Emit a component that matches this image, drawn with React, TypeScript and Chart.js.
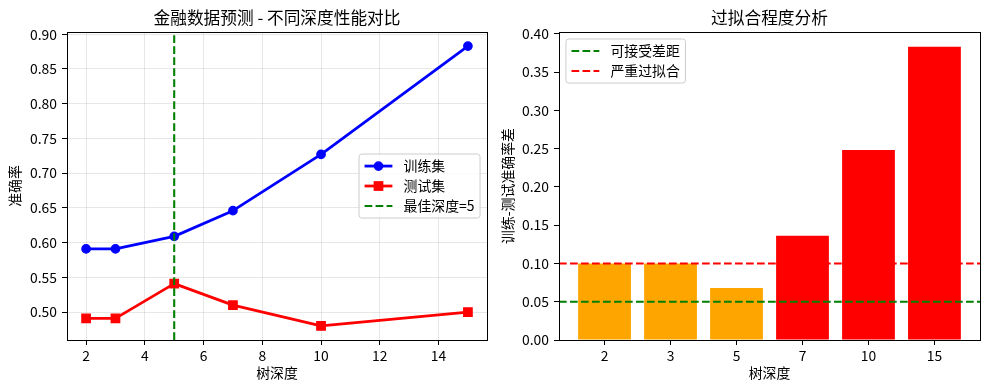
import React, { useEffect, useRef } from "react";
import { Chart, registerables } from "chart.js";

Chart.register(...registerables);

// ---------- data ----------
const depths = [2, 3, 5, 7, 10, 15];
const trainAcc = [0.591, 0.591, 0.609, 0.646, 0.727, 0.883];
const testAcc = [0.491, 0.491, 0.541, 0.510, 0.480, 0.500];
const accGap = [0.100, 0.100, 0.068, 0.136, 0.248, 0.383];
const barColors = ["#FFA500", "#FFA500", "#FFA500", "#FF0000", "#FF0000", "#FF0000"];
const bestDepth = 5;
const acceptableGap = 0.05;
const severeGap = 0.1;

const leftXTicks = [2, 4, 6, 8, 10, 12, 14];
const leftYTicks = [0.5, 0.55, 0.6, 0.65, 0.7, 0.75, 0.8, 0.85, 0.9];
const rightYTicks = [0, 0.05, 0.1, 0.15, 0.2, 0.25, 0.3, 0.35, 0.4];

const L_XMIN = 1.35, L_XMAX = 15.65, L_YMIN = 0.4598, L_YMAX = 0.9032;
const R_XMIN = -0.69, R_XMAX = 5.69, R_YMIN = 0, R_YMAX = 0.4022;

// ---------- style ----------
const FONT = '"Noto Sans CJK SC", "DejaVu Sans", sans-serif';
const FS = 13.9;
const DASH = [7.7, 3.3];

Chart.defaults.font.family = FONT;
Chart.defaults.font.size = FS;
Chart.defaults.color = "#000";

const frameBox = {
  id: "frameBox",
  afterDatasetsDraw(chart: any) {
    const { left, top, right, bottom } = chart.chartArea;
    const ctx = chart.ctx;
    ctx.save();
    ctx.strokeStyle = "#000";
    ctx.lineWidth = 1;
    ctx.strokeRect(Math.floor(left) + 0.5, Math.floor(top) + 0.5, Math.round(right - left), Math.round(bottom - top));
    ctx.restore();
  },
};

type LegItem = { label: string; color: string; lw: number; dash?: number[]; marker?: "circle" | "square" };

function makeLegend(items: LegItem[], loc: "center right" | "upper left") {
  return {
    id: "mplLegend",
    afterDraw(chart: any) {
      const ctx = chart.ctx;
      const fs = FS;
      ctx.save();
      ctx.font = `${fs}px ${FONT}`;
      const pad = 0.4 * fs, spacing = 0.5 * fs, hl = 2 * fs, htp = 0.8 * fs, rowH = 13, axPad = 0.5 * fs;
      const textW = Math.max(...items.map((it) => ctx.measureText(it.label).width));
      const w = pad * 2 + hl + htp + textW;
      const h = pad * 2 + items.length * rowH + (items.length - 1) * spacing;
      const ca = chart.chartArea;
      let x: number, y: number;
      if (loc === "center right") {
        x = ca.right - axPad - w;
        y = (ca.top + ca.bottom) / 2 - h / 2;
      } else {
        x = ca.left + axPad;
        y = ca.top + axPad;
      }
      const r = 2.8;
      ctx.beginPath();
      ctx.moveTo(x + r, y);
      ctx.lineTo(x + w - r, y);
      ctx.arcTo(x + w, y, x + w, y + r, r);
      ctx.lineTo(x + w, y + h - r);
      ctx.arcTo(x + w, y + h, x + w - r, y + h, r);
      ctx.lineTo(x + r, y + h);
      ctx.arcTo(x, y + h, x, y + h - r, r);
      ctx.lineTo(x, y + r);
      ctx.arcTo(x, y, x + r, y, r);
      ctx.closePath();
      ctx.fillStyle = "rgba(255,255,255,0.8)";
      ctx.fill();
      ctx.strokeStyle = "#cccccc";
      ctx.lineWidth = 1;
      ctx.stroke();
      items.forEach((it, i) => {
        const cy = y + pad + rowH / 2 + i * (rowH + spacing);
        const x0 = x + pad;
        ctx.beginPath();
        ctx.setLineDash(it.dash || []);
        ctx.lineWidth = it.lw;
        ctx.strokeStyle = it.color;
        ctx.moveTo(x0, cy);
        ctx.lineTo(x0 + hl, cy);
        ctx.stroke();
        ctx.setLineDash([]);
        const mx = x0 + hl / 2;
        if (it.marker === "circle") {
          ctx.beginPath();
          ctx.arc(mx, cy, 4.17, 0, Math.PI * 2);
          ctx.fillStyle = it.color;
          ctx.fill();
          ctx.lineWidth = 1.39;
          ctx.stroke();
        } else if (it.marker === "square") {
          ctx.fillStyle = it.color;
          ctx.fillRect(mx - 4.17, cy - 4.17, 8.34, 8.34);
          ctx.lineWidth = 1.39;
          ctx.strokeRect(mx - 4.17, cy - 4.17, 8.34, 8.34);
        }
        ctx.fillStyle = "#000";
        ctx.textBaseline = "middle";
        ctx.textAlign = "left";
        ctx.fillText(it.label, x0 + hl + htp, cy);
      });
      ctx.restore();
    },
  };
}

const titleOpts = (text: string) => ({
  display: true,
  text,
  color: "#000",
  font: { size: 16.7, weight: "normal" as const, family: FONT },
  padding: { top: 8, bottom: 4 },
  fullSize: false,
});

function leftConfig(): any {
  return {
    type: "line",
    data: {
      datasets: [
        {
          label: "训练集",
          data: depths.map((d, i) => ({ x: d, y: trainAcc[i] })),
          borderColor: "#0000FF",
          backgroundColor: "#0000FF",
          borderWidth: 2.78,
          borderJoinStyle: "round",
          pointStyle: "circle",
          pointRadius: 4.17,
          pointBorderWidth: 1.39,
          order: 2,
        },
        {
          label: "测试集",
          data: depths.map((d, i) => ({ x: d, y: testAcc[i] })),
          borderColor: "#FF0000",
          backgroundColor: "#FF0000",
          borderWidth: 2.78,
          borderJoinStyle: "round",
          pointStyle: "rect",
          pointRadius: 5.9,
          pointBorderWidth: 1.39,
          order: 1,
        },
        {
          label: `最佳深度=${bestDepth}`,
          data: [
            { x: bestDepth, y: L_YMIN },
            { x: bestDepth, y: L_YMAX },
          ],
          borderColor: "#008000",
          borderDash: DASH,
          borderWidth: 2.08,
          pointRadius: 0,
          order: 0,
        },
      ],
    },
    options: {
      responsive: false,
      animation: false,
      events: [],
      layout: { padding: { left: 0, right: 8, top: 0, bottom: 0 } },
      scales: {
        x: {
          type: "linear",
          min: L_XMIN,
          max: L_XMAX,
          bounds: "data",
          afterBuildTicks: (s: any) => {
            s.ticks = leftXTicks.map((v) => ({ value: v }));
          },
          afterFit: (s: any) => {
            s.height = 50;
          },
          ticks: { padding: 2, autoSkip: false, maxRotation: 0, callback: (v: any) => String(v) },
          grid: { color: "rgba(176,176,176,0.3)", tickColor: "#000", tickLength: 5, lineWidth: 1 },
          border: { display: false },
          title: { display: true, text: "树深度", padding: { top: 0, bottom: 9 } },
        },
        y: {
          type: "linear",
          min: L_YMIN,
          max: L_YMAX,
          bounds: "data",
          afterBuildTicks: (s: any) => {
            s.ticks = leftYTicks.map((v) => ({ value: v }));
          },
          afterFit: (s: any) => {
            s.width = 67;
          },
          ticks: { padding: 5, autoSkip: false, callback: (v: any) => Number(v).toFixed(2) },
          grid: { color: "rgba(176,176,176,0.3)", tickColor: "#000", tickLength: 5, lineWidth: 1 },
          border: { display: false },
          title: { display: true, text: "准确率", padding: { top: 6.7, bottom: 0 } },
        },
      },
      plugins: {
        legend: { display: false },
        tooltip: { enabled: false },
        title: titleOpts("金融数据预测 - 不同深度性能对比"),
      },
    },
    plugins: [
      frameBox,
      makeLegend(
        [
          { label: "训练集", color: "#0000FF", lw: 2.78, marker: "circle" },
          { label: "测试集", color: "#FF0000", lw: 2.78, marker: "square" },
          { label: `最佳深度=${bestDepth}`, color: "#008000", lw: 2.08, dash: DASH },
        ],
        "center right"
      ),
    ],
  };
}

function rightConfig(): any {
  return {
    type: "bar",
    data: {
      datasets: [
        {
          type: "line",
          label: "可接受差距",
          data: [
            { x: R_XMIN, y: acceptableGap },
            { x: R_XMAX, y: acceptableGap },
          ],
          borderColor: "#008000",
          borderDash: DASH,
          borderWidth: 2.08,
          pointRadius: 0,
          order: 0,
        },
        {
          type: "line",
          label: "严重过拟合",
          data: [
            { x: R_XMIN, y: severeGap },
            { x: R_XMAX, y: severeGap },
          ],
          borderColor: "#FF0000",
          borderDash: DASH,
          borderWidth: 2.08,
          pointRadius: 0,
          order: 0,
        },
        {
          type: "bar",
          label: "gap",
          data: depths.map((_, i) => ({ x: i, y: accGap[i] })),
          backgroundColor: barColors,
          borderWidth: 0,
          barPercentage: 0.8,
          categoryPercentage: 1,
          order: 1,
        },
      ],
    },
    options: {
      responsive: false,
      animation: false,
      events: [],
      layout: { padding: { left: 0, right: 9, top: 0, bottom: 0 } },
      scales: {
        x: {
          type: "linear",
          min: R_XMIN,
          max: R_XMAX,
          bounds: "data",
          offset: false,
          afterBuildTicks: (s: any) => {
            s.ticks = depths.map((_, i) => ({ value: i }));
          },
          afterFit: (s: any) => {
            s.height = 50;
          },
          ticks: { padding: 2, autoSkip: false, maxRotation: 0, callback: (v: any) => String(depths[Math.round(Number(v))]) },
          grid: { offset: false, drawOnChartArea: false, tickColor: "#000", tickLength: 5, lineWidth: 1 },
          border: { display: false },
          title: { display: true, text: "树深度", padding: { top: 0, bottom: 9 } },
        },
        y: {
          type: "linear",
          min: R_YMIN,
          max: R_YMAX,
          bounds: "data",
          afterBuildTicks: (s: any) => {
            s.ticks = rightYTicks.map((v) => ({ value: v }));
          },
          afterFit: (s: any) => {
            s.width = 64;
          },
          ticks: { padding: 5, autoSkip: false, callback: (v: any) => Number(v).toFixed(2) },
          grid: { drawOnChartArea: false, tickColor: "#000", tickLength: 5, lineWidth: 1 },
          border: { display: false },
          title: { display: true, text: "训练-测试准确率差", padding: { top: 4.7, bottom: 0 } },
        },
      },
      plugins: {
        legend: { display: false },
        tooltip: { enabled: false },
        title: titleOpts("过拟合程度分析"),
      },
    },
    plugins: [
      frameBox,
      makeLegend(
        [
          { label: "可接受差距", color: "#008000", lw: 2.08, dash: DASH },
          { label: "严重过拟合", color: "#FF0000", lw: 2.08, dash: DASH },
        ],
        "upper left"
      ),
    ],
  };
}

export default function App() {
  const leftRef = useRef<HTMLCanvasElement | null>(null);
  const rightRef = useRef<HTMLCanvasElement | null>(null);

  useEffect(() => {
    const c1 = new Chart(leftRef.current as HTMLCanvasElement, leftConfig());
    const c2 = new Chart(rightRef.current as HTMLCanvasElement, rightConfig());
    return () => {
      c1.destroy();
      c2.destroy();
    };
  }, []);

  return (
    <div style={{ position: "absolute", left: 0, top: 0, width: 989, height: 390, background: "#fff" }}>
      <canvas
        ref={leftRef}
        width={495}
        height={390}
        style={{ position: "absolute", left: 0, top: 0, width: 495, height: 390 }}
      />
      <canvas
        ref={rightRef}
        width={494}
        height={390}
        style={{ position: "absolute", left: 495, top: 0, width: 494, height: 390 }}
      />
    </div>
  );
}
